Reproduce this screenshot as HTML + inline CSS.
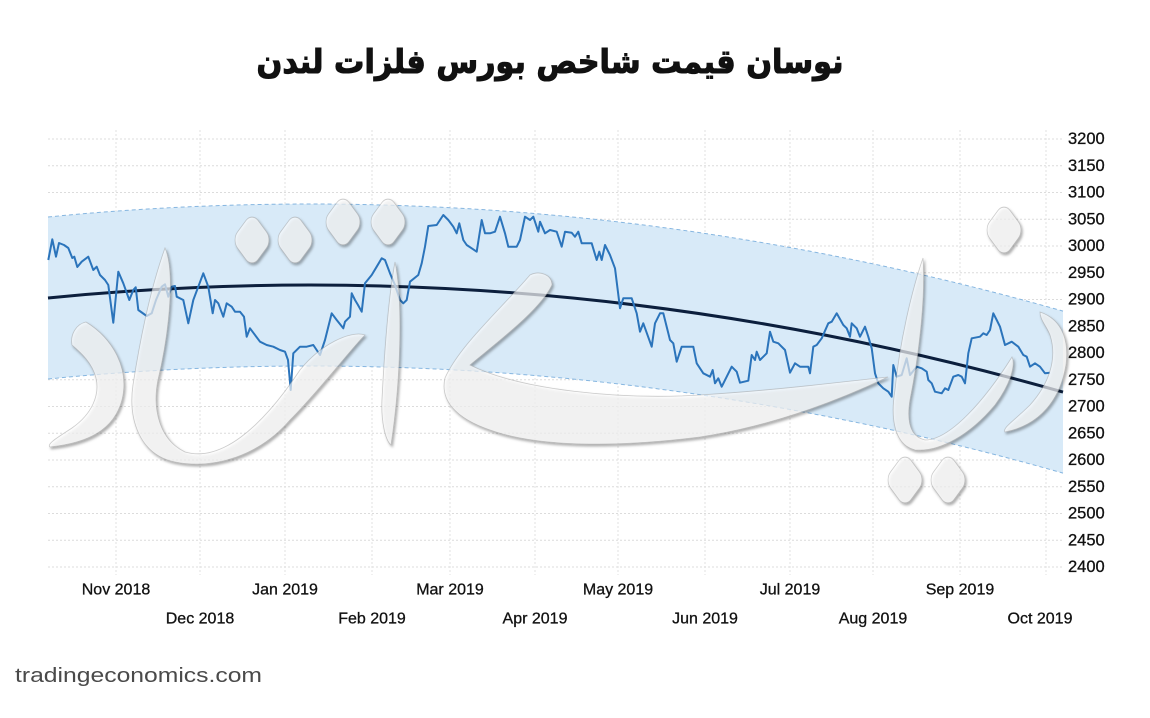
<!DOCTYPE html>
<html>
<head>
<meta charset="utf-8">
<style>
html,body{margin:0;padding:0;background:#fff;}
body{width:1150px;height:718px;overflow:hidden;}
svg{display:block;}
</style>
</head>
<body>
<svg width="1150" height="718" viewBox="0 0 1150 718" xmlns="http://www.w3.org/2000/svg">
<defs>
<filter id="sh" x="-20%" y="-20%" width="140%" height="140%">
<feDropShadow dx="1.5" dy="2" stdDeviation="1.2" flood-color="#000" flood-opacity="0.5"/>
</filter>
</defs>
<rect width="1150" height="718" fill="#fff"/>

<!-- title -->
<text x="550" y="73" text-anchor="middle" font-family="'DejaVu Sans', sans-serif" font-weight="bold" font-size="33" fill="#111" stroke="#111" stroke-width="1.1" textLength="587" lengthAdjust="spacingAndGlyphs" direction="rtl">نوسان قیمت شاخص بورس فلزات لندن</text>

<!-- horizontal grid -->
<g stroke="#dcdcdc" stroke-width="1" stroke-dasharray="2,2">
<line x1="48" x2="1063" y1="139" y2="139"/>
<line x1="48" x2="1063" y1="165.75" y2="165.75"/>
<line x1="48" x2="1063" y1="192.5" y2="192.5"/>
<line x1="48" x2="1063" y1="219.25" y2="219.25"/>
<line x1="48" x2="1063" y1="246" y2="246"/>
<line x1="48" x2="1063" y1="272.75" y2="272.75"/>
<line x1="48" x2="1063" y1="299.5" y2="299.5"/>
<line x1="48" x2="1063" y1="326.25" y2="326.25"/>
<line x1="48" x2="1063" y1="353" y2="353"/>
<line x1="48" x2="1063" y1="379.75" y2="379.75"/>
<line x1="48" x2="1063" y1="406.5" y2="406.5"/>
<line x1="48" x2="1063" y1="433.25" y2="433.25"/>
<line x1="48" x2="1063" y1="460" y2="460"/>
<line x1="48" x2="1063" y1="486.75" y2="486.75"/>
<line x1="48" x2="1063" y1="513.5" y2="513.5"/>
<line x1="48" x2="1063" y1="540.25" y2="540.25"/>
<line x1="48" x2="1063" y1="567" y2="567"/>
</g>
<!-- vertical grid -->
<g stroke="#e2e2e2" stroke-width="1" stroke-dasharray="2,2">
<line x1="116" x2="116" y1="130" y2="575"/>
<line x1="200" x2="200" y1="130" y2="575"/>
<line x1="285" x2="285" y1="130" y2="575"/>
<line x1="372" x2="372" y1="130" y2="575"/>
<line x1="450" x2="450" y1="130" y2="575"/>
<line x1="535" x2="535" y1="130" y2="575"/>
<line x1="618" x2="618" y1="130" y2="575"/>
<line x1="705" x2="705" y1="130" y2="575"/>
<line x1="790" x2="790" y1="130" y2="575"/>
<line x1="873" x2="873" y1="130" y2="575"/>
<line x1="960" x2="960" y1="130" y2="575"/>
<line x1="1046" x2="1046" y1="130" y2="575"/>
</g>

<!-- band -->
<path d="M48,217 Q555.5,166.7 1063,311.1 L1063,473.1 Q555.5,328.7 48,379 Z" fill="#d8eaf8"/>
<path d="M48,217 Q555.5,166.7 1063,311.1" fill="none" stroke="#86b6e0" stroke-width="1" stroke-dasharray="4,3"/>
<path d="M48,379 Q555.5,328.7 1063,473.1" fill="none" stroke="#86b6e0" stroke-width="1" stroke-dasharray="4,3"/>

<!-- trend -->
<path d="M48,298 Q555.5,247.7 1063,392.1" fill="none" stroke="#0c1f3d" stroke-width="3"/>

<!-- data -->
<polyline fill="none" stroke="#2b74bb" stroke-width="2" stroke-linejoin="round" points="48.3,260 52.3,239.3 56,256.7 59,243 64,245 68.3,248 72.3,258 74.3,256.7 77.3,267 81.7,261.7 88.3,256.7 93.3,270 96.7,266.7 100,275 105,280 108.3,285 113.3,322.7 118.3,271.7 123.3,283.3 129.3,300 133.3,290 135.7,287.3 138.3,310 146.7,316 151.7,313.3 156,300 161.7,286.7 165,284.3 168.3,296.7 171.7,286.7 175,286 176.7,296.7 183.3,300 188.3,323.3 193.3,300 203.3,273.3 208.3,286.7 212.7,313.3 215,300 218.3,303.3 223.3,316.7 226.7,303.3 231.7,306.7 235,311.7 240,311.7 244,316.7 246.7,336.7 250,328.3 260,341.7 266.7,345 273.3,346.7 280,350 285,351.7 288,360 290.7,390 293.3,353.3 300,346.7 306.7,346.7 313.3,345 320,355 325,340 331.7,313.3 336.7,320 343.3,328.3 345,321.7 350,316.7 351.7,293.3 355,300 358,305 361.7,311.7 365,283.3 371.7,275 376.7,266.7 381.7,258.3 385,260 390,273.3 395,285 400,300 403.3,303.3 406.7,300 410,281.7 418.3,275 421.7,263.3 425,246.7 428.3,226 436.7,225 443.3,215 448.3,220 453.3,226.7 456.7,233.3 459.3,223.3 463.3,240 466.7,245 471.7,248.3 476.7,251.7 481.7,220 485,233.3 490,233.3 495,231.7 500,216.7 505,233.3 508.3,246.7 516.7,246.7 520,240 525,216.7 530,220 533.3,216.7 538.3,231.7 540,221.7 545,233.3 550,230 556.7,231.7 561.7,246.7 565,231.7 571.7,232.7 575,236.7 578.3,231.7 581.7,243.3 591.7,243.3 596.7,260 599.3,251.7 601.7,260 605,245 610,255 615,268.3 620,308.3 623.3,298.3 631.7,298.3 636.7,313.3 640,331.7 643.3,323.3 651.7,346.7 655,323.3 660,313.3 663.3,313.3 670,340 673.3,343.3 676.7,361.7 681.7,346.7 693.3,346.7 696.7,363.3 703.3,373.3 710,376.7 712.7,370 715,383.3 718.3,378.3 721.7,386.7 726.7,376.7 731.7,366.7 736.7,371.7 740,382.7 748.3,380.7 751.7,355 755,360 756.7,351.7 760,360 766.7,353.3 770,331.7 773.3,341.7 778.3,343.3 785,350 790,372.7 795,363.3 800,366.7 808.3,366.7 810,373.3 813.3,346.7 816.7,345 821.7,338.3 828.3,323.3 831.7,321.7 836.7,313.3 843.3,325 846.7,328.3 850,336.7 851.7,323.3 856.7,328.3 860,336.7 865,326.7 868.3,336.7 871.7,348.3 875,373.3 878.3,383.3 883.3,388.3 888.3,391.7 891.7,396.7 893.3,365 896.7,376.7 901.7,375 906.7,358.3 910,375 916.7,366.7 921.7,368.3 926.7,371.7 928.3,380 931.7,383.3 935,391.7 941.7,393.3 945,388.3 948.3,390 953.3,376.7 958.3,375 961.7,376.7 965,383.3 968.3,353.3 971.7,338.3 980,336.7 983.3,333.3 986.7,335 990,330 993.3,313.3 996.7,320 1000,326.7 1005,345 1011.7,341.7 1018.3,346.7 1023.3,355 1026.7,356.7 1030,366.7 1035,363.3 1040,366.7 1045,373.3 1050,372.7"/>

<!-- watermark (decorative shapes) -->
<g fill="#ffffff" fill-opacity="0.62" stroke="#9a9a9a" stroke-opacity="0.5" stroke-width="0.8" filter="url(#sh)">
<path d="M86,322 C112,338 130,368 122,400 C114,430 88,443 50,447 C46,444 60,436 72,428 C92,414 100,395 96,378 C92,362 80,352 72,345 C70,335 76,324 86,322 Z"/>
<path d="M165,248 C175,270 170,330 158,380 C152,410 160,440 185,452 C220,462 260,430 300,370 C320,345 350,330 365,335 C350,350 320,390 290,420 C260,455 215,470 175,462 C140,455 128,420 133,385 C140,340 150,290 165,248 Z"/>
<path d="M395,262 C403,300 401,380 391,445 C385,440 381,420 382,400 C384,360 388,300 395,262 Z"/>
<path d="M530,275 C540,270 552,275 552,285 C540,310 500,340 470,365 C520,390 620,400 700,395 C780,390 840,382 888,377 C850,395 780,425 700,437 C620,447 540,448 490,430 C455,418 440,400 445,378 C460,345 500,310 530,275 Z"/>
<path d="M923,258 C926,300 918,360 910,400 C906,425 912,437 925,440 C950,440 985,400 1012,357 C1016,365 1010,385 995,405 C970,435 940,452 915,450 C895,445 890,420 895,390 C900,340 912,290 923,258 Z"/>
<path d="M1040,312 C1058,318 1070,335 1066,365 C1060,400 1040,425 1005,432 C1002,428 1015,420 1030,405 C1048,385 1058,360 1050,335 C1046,325 1040,320 1040,312 Z"/>
<rect x="-17" y="-17" width="34" height="34" rx="10" transform="translate(252,240) scale(0.85,1.15) rotate(45)"/>
<rect x="-17" y="-17" width="34" height="34" rx="10" transform="translate(295,240) scale(0.85,1.15) rotate(45)"/>
<rect x="-17" y="-17" width="34" height="34" rx="10" transform="translate(343,222) scale(0.85,1.15) rotate(45)"/>
<rect x="-17" y="-17" width="34" height="34" rx="10" transform="translate(388,222) scale(0.85,1.15) rotate(45)"/>
<rect x="-17" y="-17" width="34" height="34" rx="10" transform="translate(1004,230) scale(0.85,1.15) rotate(45)"/>
<rect x="-17" y="-17" width="34" height="34" rx="10" transform="translate(905,480) scale(0.85,1.15) rotate(45)"/>
<rect x="-17" y="-17" width="34" height="34" rx="10" transform="translate(948,480) scale(0.85,1.15) rotate(45)"/>
</g>

<!-- y labels -->
<g font-family="'Liberation Sans', sans-serif" font-size="16.5" fill="#111" stroke="#111" stroke-width="0.3" dominant-baseline="central">
<text x="1068" y="139">3200</text>
<text x="1068" y="165.75">3150</text>
<text x="1068" y="192.5">3100</text>
<text x="1068" y="219.25">3050</text>
<text x="1068" y="246">3000</text>
<text x="1068" y="272.75">2950</text>
<text x="1068" y="299.5">2900</text>
<text x="1068" y="326.25">2850</text>
<text x="1068" y="353">2800</text>
<text x="1068" y="379.75">2750</text>
<text x="1068" y="406.5">2700</text>
<text x="1068" y="433.25">2650</text>
<text x="1068" y="460">2600</text>
<text x="1068" y="486.75">2550</text>
<text x="1068" y="513.5">2500</text>
<text x="1068" y="540.25">2450</text>
<text x="1068" y="567">2400</text>
</g>

<!-- x labels -->
<g font-family="'Liberation Sans', sans-serif" font-size="16" fill="#111" stroke="#111" stroke-width="0.3" text-anchor="middle" dominant-baseline="central">
<text x="116" y="590">Nov 2018</text>
<text x="200" y="619">Dec 2018</text>
<text x="285" y="590">Jan 2019</text>
<text x="372" y="619">Feb 2019</text>
<text x="450" y="590">Mar 2019</text>
<text x="535" y="619">Apr 2019</text>
<text x="618" y="590">May 2019</text>
<text x="705" y="619">Jun 2019</text>
<text x="790" y="590">Jul 2019</text>
<text x="873" y="619">Aug 2019</text>
<text x="960" y="590">Sep 2019</text>
<text x="1040" y="619">Oct 2019</text>
</g>

<text x="15" y="682" font-family="'Liberation Sans', sans-serif" font-size="20" fill="#4a4a4a" textLength="247" lengthAdjust="spacingAndGlyphs">tradingeconomics.com</text>
</svg>
</body>
</html>
